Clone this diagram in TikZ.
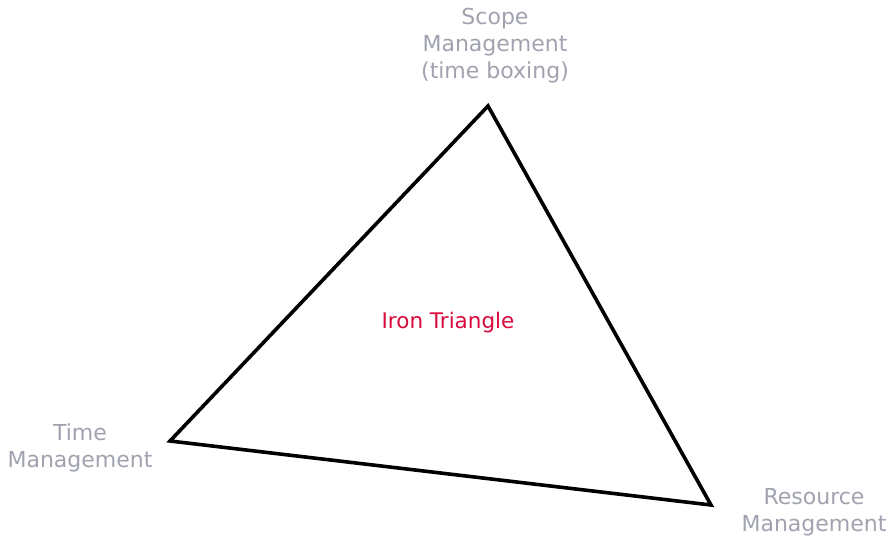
\documentclass[tikz,border=0pt]{standalone}
\usepackage{fontspec}
\setmainfont{DejaVu Sans}
\usepackage{xcolor}
\definecolor{CornerGray}{HTML}{A0A3AF}
\definecolor{IronRed}   {HTML}{D90A3C}
\usetikzlibrary{positioning}
\tikzset{
  cornernode/.style={font=\fontsize{22}{27}\selectfont,text=CornerGray,
    align=center,inner sep=0pt},
  ironnode/.style={font=\fontsize{21.5}{27}\selectfont,text=IronRed,
    inner sep=0pt},
  ironedge/.style={black,line width=3.6pt,line join=miter},
}

\begin{document}
\begin{tikzpicture}[x=1pt,y=-1pt]
  \useasboundingbox (0,0) rectangle (887,537);
  \coordinate (T) at (488,106);
  \coordinate (L) at (170,441);
  \coordinate (R) at (711,505);
  \draw[ironedge] (T) -- (L) -- (R) -- cycle;
  \node[ironnode](I)at(448,323){Iron Triangle};
  \node[cornernode](S)at(495,46)
    {Scope\\Management\\(time boxing)};
  \node[cornernode](M)at(80,448)
    {Time\\Management};
  \node[cornernode](Q)at(814,512)
    {Resource\\Management};
\end{tikzpicture}
\end{document}
